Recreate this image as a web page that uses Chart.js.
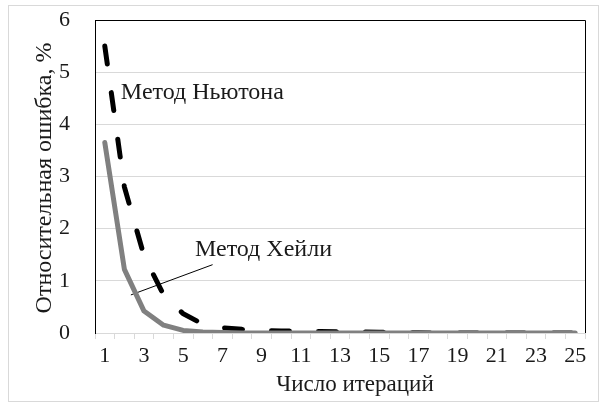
<!DOCTYPE html>
<html>
<head>
<meta charset="utf-8">
<script src="https://cdn.jsdelivr.net/npm/chart.js@4"></script>
<style>
  html, body { margin: 0; padding: 0; background: #fff; }
  canvas { display: block; }
</style>
</head>
<body>
<canvas id="chart" width="604" height="405"></canvas>
<script>
// Число итераций
const iterations = ['1','2','3','4','5','6','7','8','9','10','11','12','13','14','15','16','17','18','19','20','21','22','23','24','25'];
// Относительная ошибка, %
const newtonErr = [5.5, 2.8, 1.48, 0.73, 0.37, 0.17, 0.1, 0.07, 0.05, 0.04, 0.035, 0.03, 0.025, 0.02, 0.015, 0.01, 0.005, 0, 0, 0, 0, 0, 0, 0, 0];
const halleyErr = [3.65, 1.22, 0.42, 0.15, 0.05, 0.02, 0.01, 0, 0, 0, 0, 0, 0, 0, 0, 0, 0, 0, 0, 0, 0, 0, 0, 0, 0];
const yTicks = [0, 1, 2, 3, 4, 5, 6];

const FONT = '"Liberation Serif", "Times New Roman", serif';
const TXT = '#1a1a1a';

// подписи, рамка и выноска рисуются поверх через плагин
const decorPlugin = {
  id: 'decor',
  beforeDraw(chart){
    const c = chart.ctx;
    c.save();
    c.fillStyle = '#fff';
    c.fillRect(0, 0, chart.width, chart.height);
    c.strokeStyle = '#d9d9d9';
    c.lineWidth = 1;
    c.strokeRect(8.5, 5.5, 590, 396);
    c.restore();
  },
  beforeDatasetsDraw(chart){
    const c = chart.ctx, x = chart.scales.x, y = chart.scales.y;
    // выноска к "Метод Хейли"
    c.save();
    c.strokeStyle = '#000';
    c.lineWidth = 1;
    c.beginPath();
    c.moveTo(x.getPixelForValue(1.33), y.getPixelForValue(0.73));
    c.lineTo(x.getPixelForValue(5.5), y.getPixelForValue(1.31));
    c.stroke();
    c.restore();
  },
  afterDraw(chart){
    const c = chart.ctx, a = chart.chartArea, x = chart.scales.x, y = chart.scales.y;
    c.save();
    // верх и правая сторона рамки
    c.strokeStyle = '#000';
    c.lineWidth = 1;
    c.beginPath();
    c.moveTo(a.left, a.top + 0.5);
    c.lineTo(a.right + 0.5, a.top + 0.5);
    c.lineTo(a.right + 0.5, a.bottom);
    c.stroke();

    c.fillStyle = TXT;
    c.font = '24px ' + FONT;
    c.textBaseline = 'middle';
    c.textAlign = 'left';
    c.fillText('Метод Ньютона', x.getPixelForValue(0.82), y.getPixelForValue(4.6));
    c.fillText('Метод Хейли', x.getPixelForValue(4.6), y.getPixelForValue(1.6));

    // заголовки осей
    c.textAlign = 'center';
    c.font = '23px ' + FONT;
    c.fillText('Число итераций', 355, 385);
    c.font = '24px ' + FONT;
    c.translate(45, 178);
    c.rotate(-Math.PI / 2);
    c.fillText('Относительная ошибка, %', 0, 0);
    c.restore();
  }
};

new Chart(document.getElementById('chart').getContext('2d'), {
  type: 'line',
  data: {
    labels: iterations,
    datasets: [
      {
        label: 'Метод Хейли',
        data: halleyErr,
        borderColor: '#808080',
        borderWidth: 5,
        borderCapStyle: 'round',
        borderJoinStyle: 'round',
        pointRadius: 0,
        tension: 0,
        fill: false,
        order: 0
      },
      {
        label: 'Метод Ньютона',
        data: newtonErr,
        borderColor: '#000',
        borderWidth: 5,
        borderDash: [18, 29],
        borderCapStyle: 'round',
        pointRadius: 0,
        tension: 0,
        fill: false,
        order: 1
      }
    ]
  },
  plugins: [decorPlugin],
  options: {
    responsive: false,
    animation: false,
    devicePixelRatio: 1,
    layout: { padding: { left: 0, top: 20, right: 19, bottom: 0 } },
    plugins: { legend: { display: false }, tooltip: { enabled: false } },
    scales: {
      x: {
        type: 'category',
        offset: true,
        afterFit(s){ s.height = 72; },
        grid: { offset: true, drawOnChartArea: false, drawTicks: true, tickLength: 6, color: '#d9d9d9' },
        border: { color: '#d9d9d9', width: 1 },
        ticks: {
          autoSkip: false,
          maxRotation: 0,
          padding: 4,
          color: TXT,
          font: { family: FONT, size: 22 },
          callback(v, i){ return i % 2 === 0 ? this.getLabelForValue(v) : ''; }
        }
      },
      y: {
        min: yTicks[0],
        max: yTicks[yTicks.length - 1],
        afterFit(s){ s.width = 95; s.paddingTop = 0; s.paddingBottom = 0; },
        afterBuildTicks(s){ s.ticks = yTicks.map(v => ({ value: v })); },
        grid: { color: '#d9d9d9', lineWidth: 1, drawTicks: false },
        border: { color: '#000', width: 1 },
        ticks: {
          padding: 25,
          color: TXT,
          font: { family: FONT, size: 22 }
        }
      }
    }
  }
});
</script>
</body>
</html>
